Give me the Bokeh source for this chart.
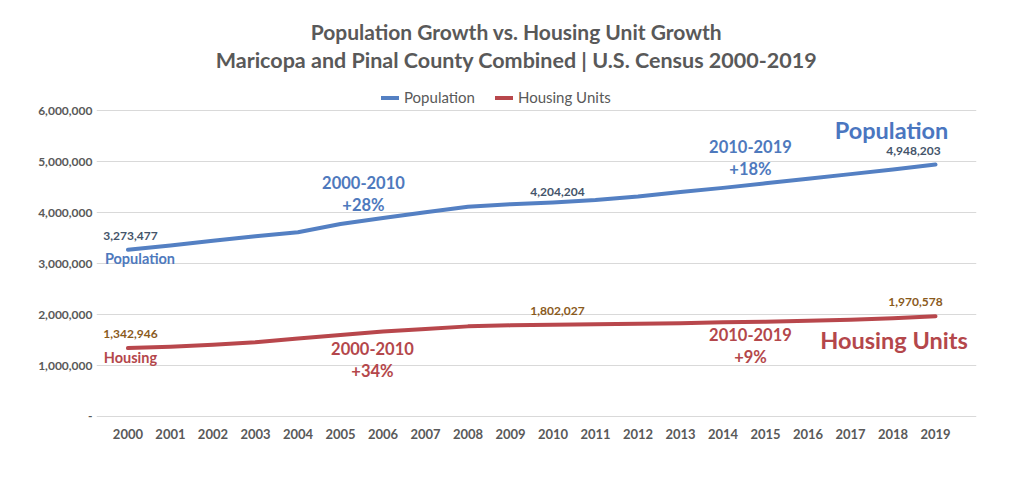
from bokeh.plotting import figure
from bokeh.models import Label, Legend, LegendItem, FixedTicker, NumeralTickFormatter, Range1d
from bokeh.embed import file_html
from bokeh.resources import INLINE

years = list(range(2000, 2020))
population = [3273477, 3360000, 3450000, 3540000, 3620000, 3780000, 3900000, 4010000, 4120000, 4170000,
              4204204, 4250000, 4320000, 4410000, 4490000, 4580000, 4670000, 4760000, 4850000, 4948203]
housing = [1342946, 1370000, 1410000, 1460000, 1530000, 1600000, 1670000, 1720000, 1770000, 1790000,
           1802027, 1810000, 1820000, 1830000, 1850000, 1860000, 1880000, 1900000, 1930000, 1970578]
y_ticks = [0, 1000000, 2000000, 3000000, 4000000, 5000000, 6000000]
labelled_years = [2000, 2010, 2019]
title_lines = ["Population Growth vs. Housing Unit Growth",
               "Maricopa and Pinal County Combined | U.S. Census 2000-2019"]

FONT = "Lato"
BLUE = "#5480C3"
RED = "#B8474C"
GRAY = "#595959"

p = figure(width=1000, height=465, output_backend="svg", toolbar_location=None,
           x_range=Range1d(1999.26, 2019.965), y_range=Range1d(-39300, 8170000),
           min_border_left=96, min_border_right=24, min_border_top=0, min_border_bottom=47)
p.outline_line_color = None
p.background_fill_color = "white"
p.border_fill_color = "white"

# grid / axes
p.xgrid.grid_line_color = None
p.ygrid.grid_line_color = "#d9d9d9"
p.ygrid.grid_line_width = 1
p.yaxis.ticker = FixedTicker(ticks=y_ticks)
p.yaxis.formatter = NumeralTickFormatter(format="0,0")
p.yaxis.major_label_overrides = {0: "-"}
p.xaxis.ticker = FixedTicker(ticks=years)
for ax in (p.xaxis, p.yaxis):
    ax.axis_line_color = None
    ax.major_tick_line_color = None
    ax.minor_tick_line_color = None
    ax.major_tick_out = 0
    ax.major_tick_in = 0
    ax.major_label_text_font = FONT
    ax.major_label_text_font_style = "bold"
    ax.major_label_text_color = GRAY
p.xaxis.major_label_text_font_size = "13px"
p.yaxis.major_label_text_font_size = "12px"
p.xaxis.major_label_standoff = 10
p.yaxis.major_label_standoff = 4

r_pop = p.line(years, population, line_color=BLUE, line_width=4, line_cap="round", line_join="round")
r_house = p.line(years, housing, line_color=RED, line_width=4, line_cap="round", line_join="round")

legend = Legend(items=[LegendItem(label="Population", renderers=[r_pop]),
                       LegendItem(label="Housing Units", renderers=[r_house])],
                orientation="horizontal", location=(285, 312), padding=0, margin=0,
                spacing=20, glyph_width=18, glyph_height=15, label_height=15,
                label_standoff=5, label_text_font=FONT, label_text_font_size="15px",
                label_text_color=GRAY, background_fill_alpha=0, border_line_color=None)
p.add_layout(legend)

# title lines (placed in the empty top region of the frame)
for text, yv, size in zip(title_lines, [7561000, 7011000], ["21px", "21.5px"]):
    p.add_layout(Label(x=2009.14, y=yv, text=text, text_align="center", text_baseline="middle",
                       text_font=FONT, text_font_style="bold", text_font_size=size, text_color=GRAY))

# data labels
pop_offsets = {2000: (2.5, 14), 2010: (4.5, 10), 2019: (-22, 14)}
house_offsets = {2000: (2.5, 14.5), 2010: (4.5, 14), 2019: (-20, 14)}
for yr in labelled_years:
    i = years.index(yr)
    dx, dy = pop_offsets[yr]
    p.add_layout(Label(x=yr, y=population[i], x_offset=dx, y_offset=dy, text=f"{population[i]:,}",
                       text_align="center", text_baseline="middle", text_font=FONT,
                       text_font_style="bold", text_font_size="12px", text_color="#44546A"))
    dx, dy = house_offsets[yr]
    p.add_layout(Label(x=yr, y=housing[i], x_offset=dx, y_offset=dy, text=f"{housing[i]:,}",
                       text_align="center", text_baseline="middle", text_font=FONT,
                       text_font_style="bold", text_font_size="12px", text_color="#8A5A1C"))

# annotations: (text, x, y, color, size, style)
ANN_BLUE = "#4E79BD"
ANN_RED = "#B4474B"
annotations = [
    ("Population", 2000.282, 3103000, ANN_BLUE, "14.5px", "bold"),
    ("Housing", 2000.059, 1159000, ANN_RED, "14.5px", "bold"),
    ("2000-2010", 2005.541, 4595000, ANN_BLUE, "16.5px", "bold"),
    ("+28%", 2005.541, 4163000, ANN_BLUE, "16.5px", "bold"),
    ("2010-2019", 2014.647, 5302000, ANN_BLUE, "16.5px", "bold"),
    ("+18%", 2014.647, 4851000, ANN_BLUE, "16.5px", "bold"),
    ("2000-2010", 2005.753, 1341000, ANN_RED, "16.5px", "bold"),
    ("+34%", 2005.753, 903000, ANN_RED, "16.5px", "bold"),
    ("2010-2019", 2014.647, 1610000, ANN_RED, "16.5px", "bold"),
    ("+9%", 2014.647, 1165000, ANN_RED, "16.5px", "bold"),
    ("Population", 2017.965, 5630000, "#4A76C0", "23.5px", "bold"),
    ("Housing Units", 2018.024, 1506000, ANN_RED, "23.5px", "bold"),
]
for text, xv, yv, col, size, style in annotations:
    p.add_layout(Label(x=xv, y=yv, text=text, text_align="center", text_baseline="middle",
                       text_font=FONT, text_font_style=style, text_font_size=size, text_color=col))

open("out.html", "w").write(file_html(p, INLINE))
